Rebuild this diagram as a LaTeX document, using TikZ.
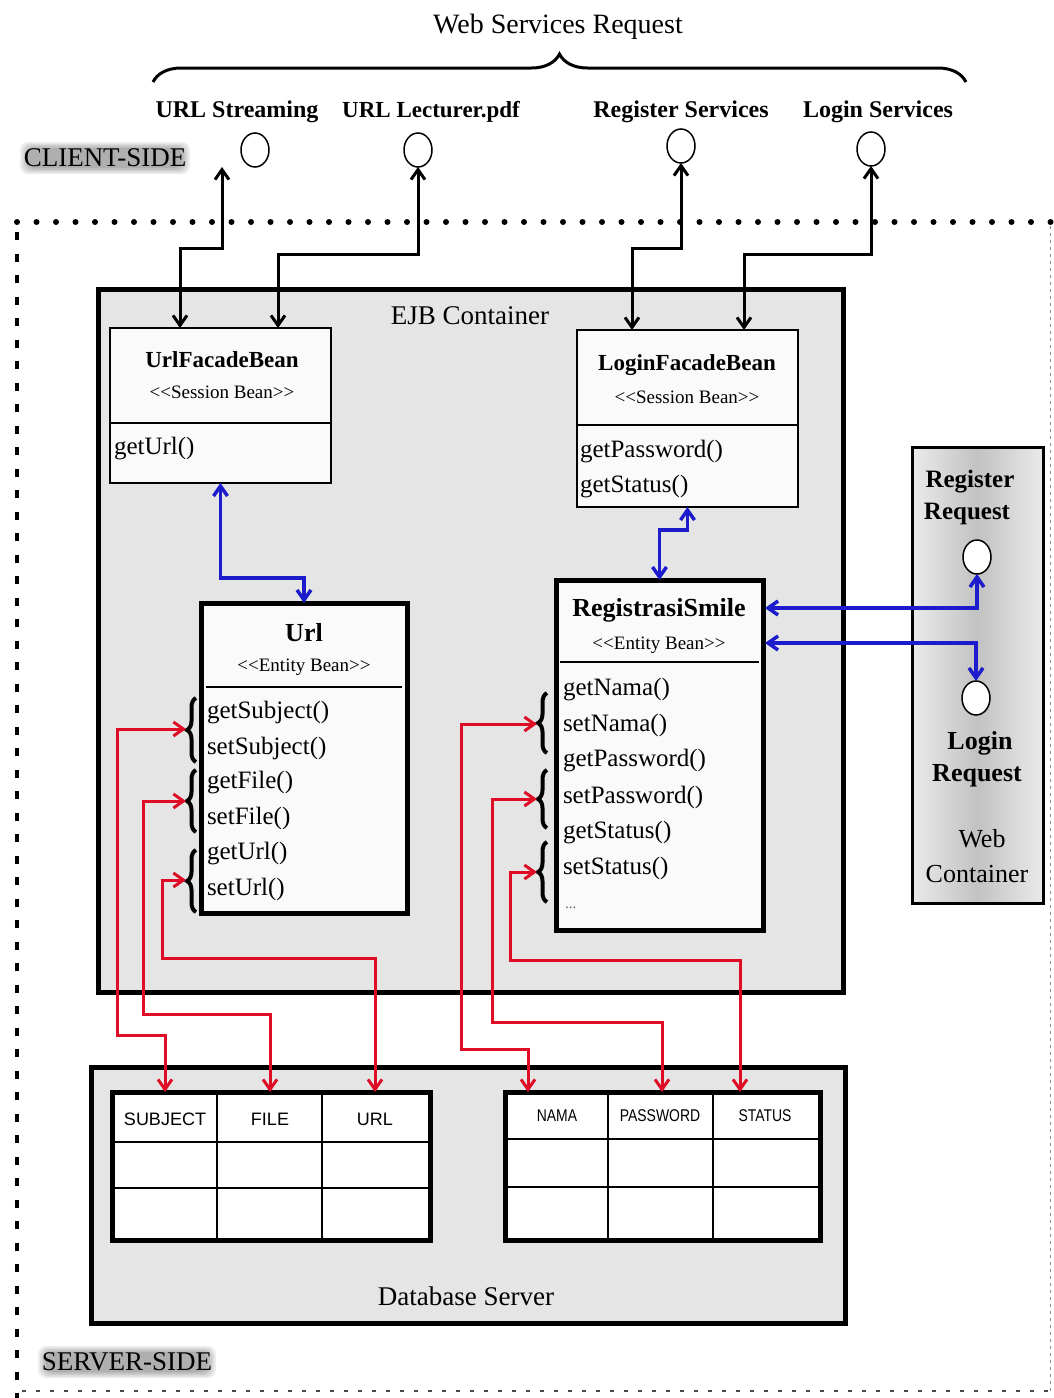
\documentclass[tikz,border=0pt]{standalone}
\usepackage{fontspec}
\setmainfont{Liberation Serif}
\newfontfamily\tabfont{Liberation Sans}
\usetikzlibrary{arrows.meta,decorations.pathreplacing,calc,shapes.geometric}
\definecolor{conblue}{RGB}{28,28,205}
\definecolor{conred}{RGB}{222,12,36}
\tikzset{
  fsz/.style={font=\fontsize{#1}{#1}\selectfont},
  bfsz/.style={font=\fontsize{#1}{#1}\selectfont\bfseries},
  tx/.style={inner sep=0pt, outer sep=0pt},
  thinbox/.style={draw=black, line width=2pt, fill=black!2, inner sep=0pt, outer sep=0pt, anchor=north west},
  thickbox/.style={draw=black, line width=5pt, fill=black!2, inner sep=0pt, outer sep=0pt, anchor=north west},
  contbox/.style={draw=black, line width=5pt, fill=black!10, inner sep=0pt, outer sep=0pt, anchor=north west},
  tablebox/.style={draw=black, line width=5pt, fill=white, inner sep=0pt, outer sep=0pt, anchor=north west},
  iface/.style={draw=black, line width=1.5pt, fill=white, ellipse, minimum width=28pt, minimum height=34pt, inner sep=0pt, outer sep=0pt},
  kcon/.style={draw=black, line width=3pt, <->},
  bcon/.style={draw=conblue, line width=3.5pt, <->},
  rcon/.style={draw=conred, line width=3pt, <->},
  bracemark/.style={decorate, decoration={brace, amplitude=9pt}, line width=4pt},
  divider/.style={line width=2pt},
  cell/.style={line width=2pt},
  halo/.style={fill=black, opacity=0.07, rounded corners=8pt},
}
\begin{document}
\begin{tikzpicture}[x=1pt, y=-1pt, >={Straight Barb[length=10pt,width=14pt]}]
\useasboundingbox (0,0) rectangle (1054,1398);
\fill[white] (0,0) rectangle (1054,1398);

% ---------- client side ----------
\node[tx, fsz=28] (wsr) at (558,27) {Web Services Request};
\draw[decorate, decoration={brace, amplitude=28pt, aspect=0.5}, line width=3pt] (153,82) -- (966,82);

\node[tx, bfsz=24] (l1) at (237,112) {URL Streaming};
\node[tx, bfsz=23] (l2) at (431,112) {URL Lecturer.pdf};
\node[tx, bfsz=24] (l3) at (681,112) {Register Services};
\node[tx, bfsz=24] (l4) at (878,112) {Login Services};

\node[iface] (ws1) at (255,150) {};
\node[iface] (ws2) at (418,150) {};
\node[iface] (ws3) at (681,146) {};
\node[iface] (ws4) at (871,149) {};

\foreach \i in {0,...,4}
  \path[halo] (20+\i*2,142+\i*1.5) rectangle (190-\i*2,174-\i*1.5);
\node[tx, fsz=27] (cs) at (105,158) {CLIENT-SIDE};

% ---------- server side border ----------
\draw[line width=6pt, line cap=round, dash pattern=on 0pt off 19.5pt] (17,222) -- (1054,222);
\draw[line width=4pt, dash pattern=on 8pt off 13.5pt] (17,232) -- (17,1398);
\draw[line width=1.5pt, black!70, dash pattern=on 4pt off 10pt] (22,1391) -- (1054,1391);
\draw[line width=1pt, black!45, dash pattern=on 3pt off 4pt] (1050,226) -- (1050,1391);

\foreach \i in {0,...,4}
  \path[halo] (38+\i*2,1346+\i*1.5) rectangle (216-\i*2,1378-\i*1.5);
\node[tx, fsz=27] (ss) at (127,1362) {SERVER-SIDE};

% ---------- containers ----------
\node[contbox, minimum width=745pt, minimum height=703pt] (ejb) at (98,289) {};
\node[tx, fsz=27] (ejbl) at (470,316) {EJB Container};

\node[contbox, minimum width=754pt, minimum height=256pt] (db) at (91,1067) {};
\node[tx, fsz=27] (dbl) at (466,1296) {Database Server};

\node[draw=black, line width=3pt, left color=black!8, right color=black!8, middle color=black!24,
      inner sep=0pt, outer sep=0pt, anchor=north west, minimum width=131pt, minimum height=456pt] (wc) at (912,447) {};
\node[tx, bfsz=25] (rr1) at (970,482) {Register};
\node[tx, bfsz=25] (rr2) at (967,514) {Request};
\node[iface] (rr) at (977,557) {};
\node[iface] (lr) at (976,698) {};
\node[tx, bfsz=26] (lr1) at (980,743) {Login};
\node[tx, bfsz=26] (lr2) at (977,776) {Request};
\node[tx, fsz=26] (wc1) at (982,839) {Web};
\node[tx, fsz=26] (wc2) at (977,874) {Container};

% ---------- session beans ----------
\node[thinbox, minimum width=221pt, minimum height=155pt] (ufb) at (110,328) {};
\draw[divider] (110,423) -- (331,423);
\node[tx, bfsz=23] (ufbt) at (222,360) {UrlFacadeBean};
\node[tx, fsz=19] (ufbs) at (222,392) {<{}<Session Bean>{}>};
\node[tx, fsz=25, anchor=west] (ufbm) at (114,449) {getUrl()};

\node[thinbox, minimum width=221pt, minimum height=177pt] (lfb) at (577,330) {};
\draw[divider] (577,425) -- (798,425);
\node[tx, bfsz=23] (lfbt) at (687,365) {LoginFacadeBean};
\node[tx, fsz=19] (lfbs) at (687,397) {<{}<Session Bean>{}>};
\node[tx, fsz=25, anchor=west] (lfbm1) at (580,452) {getPassword()};
\node[tx, fsz=25, anchor=west] (lfbm2) at (580,487) {getStatus()};

% ---------- entity beans ----------
\node[thickbox, minimum width=206pt, minimum height=310pt] (url) at (201,603) {};
\draw[divider] (206,687) -- (402,687);
\node[tx, bfsz=26] (urlt) at (304,633) {Url};
\node[tx, fsz=19] (urls) at (304,667) {<{}<Entity Bean>{}>};
\foreach \t/\yy [count=\i] in {getSubject()/713, setSubject()/748, getFile()/783, setFile()/818, getUrl()/854, setUrl()/889}
  \node[tx, fsz=25, anchor=west] (urlm\i) at (207,\yy) {\t};

\node[thickbox, minimum width=207pt, minimum height=350pt] (reg) at (556,580) {};
\draw[divider] (560,662) -- (759,662);
\node[tx, bfsz=26] (regt) at (659,610) {RegistrasiSmile};
\node[tx, fsz=19] (regs) at (659,645) {<{}<Entity Bean>{}>};
\foreach \t/\yy [count=\i] in {getNama()/690, setNama()/725, getPassword()/761, setPassword()/797, getStatus()/833, setStatus()/868}
  \node[tx, fsz=25, anchor=west] (regm\i) at (563,\yy) {\t};
\node[tx, fsz=15, anchor=west, text=black!60] (regdots) at (565,908) {...};

% braces
\draw[bracemark] (196,762) -- (196,698);
\draw[bracemark] (196,832) -- (196,770);
\draw[bracemark] (196,912) -- (196,850);
\draw[bracemark] (547,753) -- (547,693);
\draw[bracemark] (547,828) -- (547,770);
\draw[bracemark] (547,902) -- (547,842);
\coordinate (ub1) at (186,729);
\coordinate (ub2) at (186,801);
\coordinate (ub3) at (186,880);
\coordinate (rb1) at (537,724);
\coordinate (rb2) at (537,799);
\coordinate (rb3) at (537,872);

% ---------- tables ----------
\node[tablebox, minimum width=318pt, minimum height=148pt] (tab1) at (112,1092) {};
\draw[cell] (217,1092) -- (217,1240) (322,1092) -- (322,1240) (112,1142) -- (430,1142) (112,1188) -- (430,1188);
\node[tx, font=\tabfont\fontsize{18}{18}\selectfont] (h1) at (165,1119) {SUBJECT};
\node[tx, font=\tabfont\fontsize{18}{18}\selectfont] (h2) at (270,1119) {FILE};
\node[tx, font=\tabfont\fontsize{18}{18}\selectfont] (h3) at (375,1119) {URL};

\node[tablebox, minimum width=315pt, minimum height=148pt] (tab2) at (505,1092) {};
\draw[cell] (608,1092) -- (608,1240) (713,1092) -- (713,1240) (505,1139) -- (820,1139) (505,1187) -- (820,1187);
\node[tx, font=\tabfont\fontsize{17}{17}\selectfont] (h4) at (557,1116) {\scalebox{0.82}[1]{NAMA}};
\node[tx, font=\tabfont\fontsize{17}{17}\selectfont] (h5) at (660,1116) {\scalebox{0.82}[1]{PASSWORD}};
\node[tx, font=\tabfont\fontsize{17}{17}\selectfont] (h6) at (765,1116) {\scalebox{0.82}[1]{STATUS}};

% ---------- connectors ----------
\draw[kcon] ([xshift=-33pt]ws1.south) -- ++(0,81) -| ([xshift=70pt]ufb.north west);
\draw[kcon] (ws2.south) -- ++(0,87) -| ([xshift=168pt]ufb.north west);
\draw[kcon] (ws3.south) -- ++(0,85) -| ([xshift=55pt]lfb.north west);
\draw[kcon] (ws4.south) -- ++(0,88) -| ([xshift=167pt]lfb.north west);

\draw[bcon] (ufb.south) -- ++(0,95) -| (url.north);
\draw[bcon] (lfb.south) -- ++(0,23) -| (reg.north);
\draw[bcon] ($(reg.north east)+(2,28)$) -| (rr.south);
\draw[bcon] ($(reg.north east)+(2,63)$) -| (lr.north);

\draw[rcon] (ub1) -- ++(-69,0) -- ++(0,306) -| (h1 |- tab1.north);
\draw[rcon] (ub2) -- ++(-43,0) -- ++(0,213) -| (h2 |- tab1.north);
\draw[rcon] (ub3) -- ++(-24,0) -- ++(0,78) -| (h3 |- tab1.north);
\draw[rcon] (rb1) -- ++(-76,0) -- ++(0,325) -| ($(tab2.north west)+(23,0)$);
\draw[rcon] (rb2) -- ++(-45,0) -- ++(0,223) -| ($(tab2.north west)+(157,0)$);
\draw[rcon] (rb3) -- ++(-27,0) -- ++(0,88) -| ($(tab2.north west)+(235,0)$);
\end{tikzpicture}
\end{document}
